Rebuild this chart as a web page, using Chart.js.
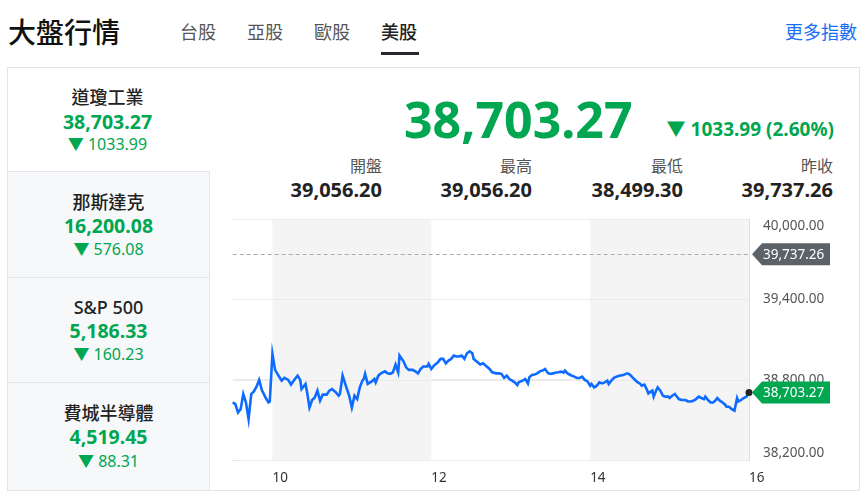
<!DOCTYPE html>
<html>
<head>
<meta charset="utf-8">
<script src="https://cdn.jsdelivr.net/npm/chart.js@4"></script>
<style>
  body { margin: 0; width: 861px; height: 504px; background: #fff; position: relative; overflow: hidden;
         font-family: "Noto Sans", "Noto Sans CJK TC", sans-serif; }
  .abs { position: absolute; white-space: nowrap; }
  .title { left: 8px; top: 14px; font-size: 28px; line-height: 36px; font-weight: 500; color: #111; }
  .tab { top: 20px; font-size: 18px; line-height: 24px; color: #555; }
  .tab.on { color: #222; font-weight: 500; }
  .bar { left: 381px; top: 52px; width: 38px; height: 3px; background: #26292e; }
  .more { right: 4px; top: 20px; font-size: 18px; line-height: 24px; color: #1a6ef5; }
  .card { left: 7px; top: 67px; width: 851px; height: 422px; border: 1px solid #e3e5ea; }
  .item { position: absolute; left: 7px; width: 201px; }
  .item.off { background: #f7f8fa; border-top: 1px solid #e3e5ea; border-right: 1px solid #e3e5ea; border-left: 1px solid #e3e5ea; left: 7px; }
  .item div { position: absolute; left: 0; width: 100%; text-align: center; }
  .nm { font-size: 18px; line-height: 24px; color: #222; font-weight: 500; }
  .val { font-size: 19.5px; line-height: 24px; color: #00a650; font-weight: bold; }
  .chg { font-size: 16px; line-height: 22px; color: #00a650; }
  .big { left: 404px; top: 84px; font-size: 50px; line-height: 70px; font-weight: bold; color: #00a650; }
  .bigchg { right: 27px; top: 116px; font-size: 19px; line-height: 26px; font-weight: bold; color: #00a650; }
  .lab { font-size: 16px; line-height: 22px; color: #555; text-align: right; }
  .num { font-size: 20px; line-height: 24px; color: #222; font-weight: bold; text-align: right; }
  #wrap { position: absolute; left: 222px; top: 209px; width: 615px; height: 276px; }
</style>
</head>
<body>
<div class="abs title">大盤行情</div>
<div class="abs tab" style="left:180px">台股</div>
<div class="abs tab" style="left:247px">亞股</div>
<div class="abs tab" style="left:314px">歐股</div>
<div class="abs tab on" style="left:381px">美股</div>
<div class="abs bar"></div>
<div class="abs more">更多指數</div>

<div class="abs card"></div>
<div class="item" style="top:68px;height:103px;">
  <div class="nm" style="top:17px">道瓊工業</div>
  <div class="val" style="top:42px">38,703.27</div>
  <div class="chg" style="top:65px">▼ 1033.99</div>
</div>
<div class="item off" style="top:171px;height:105px;">
  <div class="nm" style="top:18px">那斯達克</div>
  <div class="val" style="top:42px">16,200.08</div>
  <div class="chg" style="top:66px">▼ 576.08</div>
</div>
<div class="item off" style="top:277px;height:104px;">
  <div class="nm" style="top:17px">S&amp;P 500</div>
  <div class="val" style="top:41px">5,186.33</div>
  <div class="chg" style="top:65px">▼ 160.23</div>
</div>
<div class="item off" style="top:382px;height:107px;">
  <div class="nm" style="top:18px">費城半導體</div>
  <div class="val" style="top:42px">4,519.45</div>
  <div class="chg" style="top:67px">▼ 88.31</div>
</div>

<div class="abs big">38,703.27</div>
<div class="abs bigchg">▼ 1033.99 (2.60%)</div>

<div class="abs lab" style="right:479px;top:155px">開盤</div>
<div class="abs num" style="right:479px;top:178px">39,056.20</div>
<div class="abs lab" style="right:329px;top:155px">最高</div>
<div class="abs num" style="right:329px;top:178px">39,056.20</div>
<div class="abs lab" style="right:178px;top:155px">最低</div>
<div class="abs num" style="right:178px;top:178px">38,499.30</div>
<div class="abs lab" style="right:28px;top:155px">昨收</div>
<div class="abs num" style="right:28px;top:178px">39,737.26</div>

<div id="wrap"><canvas id="chart" width="615" height="276"></canvas></div>

<script>
// minutes since midnight (570 = 9:30, 960 = 16:00)
const minutes = [570, 572, 574, 576, 578, 580, 582, 584, 586, 588, 590, 592, 595, 597, 598,
  600, 602, 605, 607, 609, 612, 614, 617, 619, 621, 622, 625, 626, 628, 630, 632, 634, 636, 638,
  641, 643, 645, 648, 650, 651, 653, 655, 658, 660, 662, 664, 666, 668, 669, 670, 672, 675, 677,
  678, 680, 682, 685, 687, 689, 691, 693, 695, 696, 699, 701, 703, 706, 708, 710, 712, 714, 717,
  718, 720, 722, 725, 727, 729, 731, 733, 735, 737, 739, 741, 743, 745, 747, 749, 751, 752, 755,
  757, 759, 761, 764, 766, 769, 771, 773, 775, 777, 779, 781, 783, 785, 786, 789, 791, 793, 794,
  796, 798, 800, 802, 804, 806, 808, 810, 812, 814, 816, 818, 820, 821, 823, 825, 828, 830, 832,
  834, 836, 838, 840, 841, 843, 845, 847, 849, 851, 853, 854, 856, 858, 860, 862, 865, 867, 868,
  870, 872, 874, 876, 878, 879, 881, 883, 884, 886, 887, 888, 890, 891, 893, 895, 897, 899, 900,
  902, 904, 905, 907, 909, 912, 914, 916, 918, 920, 922, 924, 926, 927, 929, 931, 933, 935, 936,
  938, 940, 942, 943, 945, 947, 949, 951, 952, 954, 956, 958, 960];
const prices = [38630, 38618, 38555, 38580, 38693, 38630, 38505, 38693, 38712, 38748, 38798, 38723, 38663, 38630, 38637,
  38993, 38873, 38823, 38793, 38813, 38798, 38763, 38805, 38830, 38798, 38730, 38768, 38718, 38592, 38648, 38667, 38718, 38643, 38688,
  38688, 38718, 38730, 38705, 38680, 38693, 38830, 38768, 38680, 38592, 38680, 38655, 38742, 38793, 38805, 38843, 38768, 38787, 38805,
  38780, 38830, 38847, 38862, 38847, 38843, 38855, 38913, 38855, 38980, 38937, 38892, 38873, 38873, 38862, 38847, 38880, 38898, 38898,
  38918, 38880, 38905, 38930, 38955, 38955, 38922, 38943, 38955, 38980, 38973, 38973, 38980, 38955, 38997, 39012, 38997, 38955, 38930,
  38913, 38922, 38905, 38880, 38855, 38847, 38847, 38843, 38813, 38830, 38805, 38793, 38780, 38760, 38780, 38793, 38805, 38772, 38817,
  38835, 38838, 38847, 38862, 38868, 38880, 38850, 38843, 38847, 38853, 38855, 38860, 38853, 38868, 38847, 38835, 38823, 38813, 38813,
  38823, 38798, 38787, 38755, 38768, 38742, 38755, 38780, 38772, 38780, 38793, 38768, 38793, 38813, 38823, 38830, 38835, 38843, 38847,
  38838, 38817, 38798, 38780, 38768, 38755, 38763, 38723, 38697, 38712, 38718, 38673, 38723, 38742, 38718, 38680, 38673, 38673, 38663,
  38680, 38693, 38680, 38655, 38648, 38648, 38637, 38637, 38643, 38655, 38673, 38663, 38655, 38673, 38648, 38630, 38630, 38648, 38663,
  38643, 38630, 38613, 38598, 38598, 38580, 38568, 38663, 38637, 38648, 38663, 38673, 38703.27];
const xTicks = [600, 720, 840, 960];
const yTicks = [38200, 38800, 39400, 40000];
const shaded = [[600, 720], [840, 960]];
const prevClose = 39737.26;
const lastPrice = 38703.27;

const green = '#00a650';
const fmt = v => v.toLocaleString('en-US', { minimumFractionDigits: 2, maximumFractionDigits: 2 });

function tag(ctx, x, y, text, bg) {
  ctx.fillStyle = bg;
  ctx.beginPath();
  ctx.moveTo(x, y);
  ctx.lineTo(x + 10, y - 11);
  ctx.lineTo(x + 78, y - 11);
  ctx.lineTo(x + 78, y + 11);
  ctx.lineTo(x + 10, y + 11);
  ctx.closePath();
  ctx.fill();
  ctx.fillStyle = '#fff';
  ctx.fillText(text, x + 11, y + 1);
}

const extras = {
  id: 'extras',
  beforeDatasetsDraw(chart) {
    const { ctx, chartArea: a, scales: { x, y } } = chart;
    ctx.save();
    ctx.fillStyle = '#f4f4f4';
    shaded.forEach(([s, e]) => {
      const x0 = x.getPixelForValue(s), x1 = x.getPixelForValue(e);
      ctx.fillRect(x0, a.top, x1 - x0, a.bottom - a.top);
    });
    // grid lines again on top of the bands
    ctx.strokeStyle = '#ebebeb';
    ctx.lineWidth = 1;
    yTicks.forEach(v => {
      const py = Math.round(y.getPixelForValue(v)) + 0.5;
      ctx.beginPath(); ctx.moveTo(a.left, py); ctx.lineTo(a.right, py); ctx.stroke();
    });
    const py = Math.round(y.getPixelForValue(prevClose)) + 0.5;
    ctx.strokeStyle = '#aaaaaa';
    ctx.setLineDash([4, 3]);
    ctx.beginPath(); ctx.moveTo(a.left, py); ctx.lineTo(a.right, py); ctx.stroke();
    ctx.restore();
  },
  afterDraw(chart) {
    const { ctx, chartArea: a, scales: { y } } = chart;
    ctx.save();
    ctx.font = '13.5px "Noto Sans"';
    ctx.textBaseline = 'middle';
    ctx.textAlign = 'left';
    ctx.fillStyle = '#555';
    yTicks.forEach(v => {
      let py = y.getPixelForValue(v);
      py = Math.min(Math.max(py, a.top + 7), a.bottom - 7);
      ctx.fillText(fmt(v), a.right + 14, py);
    });
    tag(ctx, a.right + 3, y.getPixelForValue(prevClose), fmt(prevClose), '#5b6268');
    tag(ctx, a.right + 3, y.getPixelForValue(lastPrice), fmt(lastPrice), green);
    ctx.restore();
  }
};

new Chart(document.getElementById('chart'), {
  type: 'line',
  data: {
    datasets: [{
      data: minutes.map((m, i) => ({ x: m, y: prices[i] })),
      borderColor: '#0d6bff',
      borderWidth: 2.6,
      tension: 0,
      clip: false,
      pointRadius: c => (c.dataIndex === minutes.length - 1 ? 3.5 : 0),
      pointBackgroundColor: '#222',
      pointBorderWidth: 0
    }]
  },
  options: {
    responsive: false,
    animation: false,
    layout: { padding: { left: 10.7, top: 10, right: 0, bottom: 0 } },
    plugins: { legend: { display: false }, tooltip: { enabled: false } },
    scales: {
      x: {
        type: 'linear',
        min: 570,
        max: 960,
        afterBuildTicks: s => { s.ticks = xTicks.map(v => ({ value: v })); },
        afterFit: s => { s.height = 25; },
        grid: { display: false },
        border: { display: true, color: '#cfcfcf' },
        ticks: {
          align: 'start',
          padding: 2,
          color: '#333',
          font: { family: 'Noto Sans', size: 13.5 },
          callback: v => String(v / 60)
        }
      },
      y: {
        position: 'right',
        min: 38200,
        max: 40000,
        afterBuildTicks: s => { s.ticks = yTicks.map(v => ({ value: v })); },
        afterFit: s => { s.width = 88; },
        grid: { color: '#ebebeb', drawTicks: false },
        border: { display: true, color: '#dde0e8' },
        ticks: { display: false }
      }
    }
  },
  plugins: [extras]
});
</script>
</body>
</html>
